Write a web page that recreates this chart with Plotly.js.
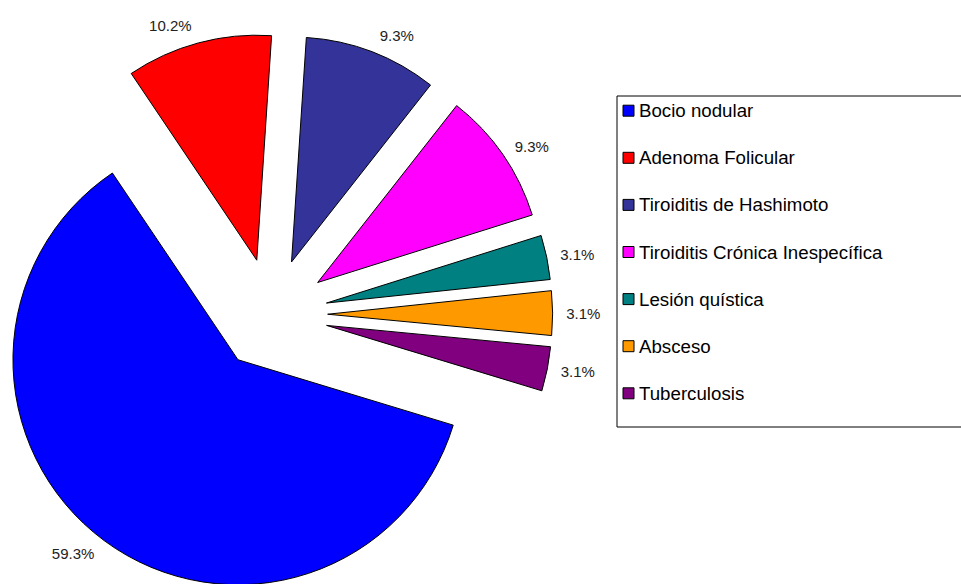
<!DOCTYPE html>
<html>
<head>
<meta charset="utf-8">
<script src="https://cdn.plot.ly/plotly-3.0.1.min.js"></script>
<style>
  html, body { margin: 0; padding: 0; width: 961px; height: 584px; overflow: hidden; background: #fff; }
  #chart { position: absolute; left: -40px; top: 0; width: 1040px; height: 660px; }
</style>
</head>
<body>
<div id="chart"></div>
<script>
// ---- data ----
const categories = ['Bocio nodular', 'Adenoma Folicular', 'Tiroiditis de Hashimoto',
  'Tiroiditis Crónica Inespecífica', 'Lesión quística', 'Absceso', 'Tuberculosis'];
const percents = [59.3, 10.2, 9.3, 9.3, 3.1, 3.1, 3.1];
const colors = ['#0000FF', '#FF0000', '#333399', '#FF00FF', '#008080', '#FF9900', '#800080'];

// ---- layout helpers (div is offset 40px to the left, 1040x660) ----
const W = 1040, H = 660, OFFX = 40;
const px = x => (x + OFFX) / W;
const py = y => 1 - y / H;

const FONT = 'Liberation Sans, Arial, sans-serif';

// visible pie
const pie = {
  type: 'pie',
  labels: categories,
  values: percents,
  sort: false,
  direction: 'clockwise',
  rotation: 106.9,
  pull: percents.map(() => 0.25),
  marker: { colors: colors, line: { color: '#000', width: 1 } },
  textinfo: 'none',
  hoverinfo: 'none',
  showlegend: false,
  domain: { x: [0.02899, 0.56985], y: [0.09734, 0.94962] }
};

// same slices, slightly larger radius, only used to place the value labels
const labelsPie = {
  type: 'pie',
  labels: categories,
  values: percents,
  sort: false,
  direction: 'clockwise',
  rotation: 106.9,
  pull: percents.map(() => 0.24188),
  marker: { colors: percents.map(() => 'rgba(0,0,0,0)'), line: { width: 0 } },
  texttemplate: '%{value:.1f}%',
  textposition: 'outside',
  outsidetextfont: { family: FONT, size: 15, color: '#222' },
  hoverinfo: 'none',
  showlegend: false,
  domain: { x: [0.02, 0.57884], y: [0.08318, 0.96378] }
};

// ---- legend drawn from the category / colour arrays ----
const shapes = [{
  type: 'rect', xref: 'paper', yref: 'paper',
  x0: px(617), x1: px(1000), y0: py(96), y1: py(427),
  line: { color: '#000', width: 1 }, fillcolor: 'rgba(0,0,0,0)'
}];
const annotations = [];
const top0 = 110.7, step = 47.1;
categories.forEach((c, i) => {
  const yc = top0 + step * i;
  shapes.push({
    type: 'rect', xref: 'paper', yref: 'paper',
    x0: px(623), x1: px(634), y0: py(yc + 5.5), y1: py(yc - 5.5),
    fillcolor: colors[i], line: { color: '#000', width: 1 }
  });
  annotations.push({
    xref: 'paper', yref: 'paper', x: px(637), y: py(yc),
    xanchor: 'left', yanchor: 'middle', showarrow: false,
    text: c, font: { family: FONT, size: 18.7, color: '#000' }
  });
});

const layout = {
  width: W, height: H,
  margin: { l: 0, r: 0, t: 0, b: 0 },
  paper_bgcolor: '#fff',
  showlegend: false,
  shapes: shapes,
  annotations: annotations,
  font: { family: FONT }
};

Plotly.newPlot('chart', [pie, labelsPie], layout, { displayModeBar: false, staticPlot: true });
</script>
</body>
</html>
